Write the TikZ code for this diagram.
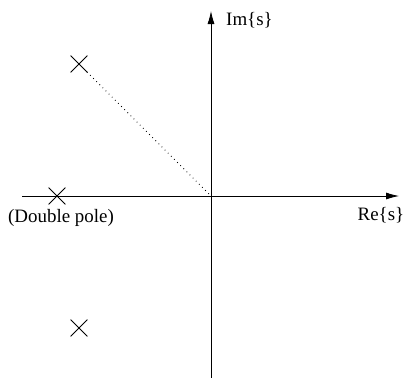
\documentclass[tikz,border=0pt]{standalone}
\usepackage{fontspec}
\setmainfont{Liberation Serif}
\usetikzlibrary{arrows.meta,shapes.misc}
\begin{document}
\begin{tikzpicture}[x=1bp,y=-1bp,
  axis/.style={line width=0.8bp,-{Latex[length=13bp,width=7bp]}},
  pole/.style={cross out,draw,line width=0.8bp,minimum size=16bp,inner sep=0pt},
  lbl/.style={font=\fontsize{19}{21}\selectfont,inner sep=0pt}]
\useasboundingbox (0,0) rectangle (404,378);
\coordinate (xs) at (22,196);
\coordinate (xe) at (399,196);
\coordinate (ys) at (211,378);
\coordinate (ye) at (211,11);
\coordinate (o) at (211,196);
\draw[axis] (xs) -- (xe);
\draw[axis] (ys) -- (ye);
\node[pole] (p1) at (79,64) {};
\node[pole] (p2) at (57,196) {};
\node[pole] (p3) at (79,328) {};
\draw[line width=0.8bp,dash pattern=on 0.8bp off 3.6bp] (p1.center) ++(8,8) -- (o);
\node[lbl,anchor=west] (im) at (226,20) {Im\{s\}};
\node[lbl] (re) at (381,215) {Re\{s\}};
\node[lbl] (dp) at (61,218) {(Double pole)};
\end{tikzpicture}
\end{document}
